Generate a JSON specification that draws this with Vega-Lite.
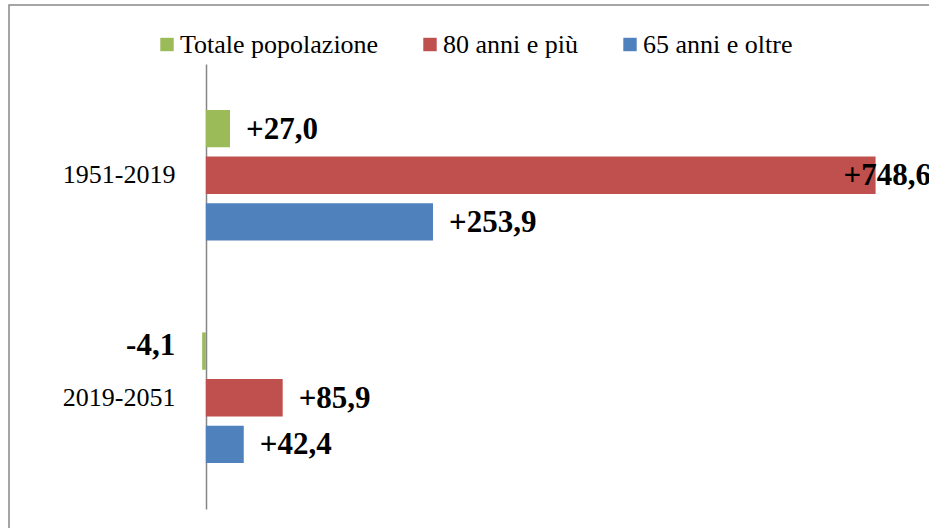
{
  "$schema": "https://vega.github.io/schema/vega-lite/v6.json",
  "width": 926,
  "height": 535,
  "autosize": {"type": "none"},
  "padding": {"left": 9, "top": 5, "right": 0, "bottom": 0},
  "background": "white",
  "config": {
    "view": {"stroke": "#888888", "strokeWidth": 1.5},
    "locale": {"number": {"decimal": ",", "thousands": ".", "grouping": [3], "currency": ["€", ""], "minus": "-"}},
    "font": "Liberation Serif"
  },
  "data": {
    "values": [
      {"periodo": "1951-2019", "serie": "Totale popolazione", "valore": 27.0},
      {"periodo": "1951-2019", "serie": "80 anni e più", "valore": 748.6},
      {"periodo": "1951-2019", "serie": "65 anni e oltre", "valore": 253.9},
      {"periodo": "2019-2051", "serie": "Totale popolazione", "valore": -4.1},
      {"periodo": "2019-2051", "serie": "80 anni e più", "valore": 85.9},
      {"periodo": "2019-2051", "serie": "65 anni e oltre", "valore": 42.4}
    ]
  },
  "encoding": {
    "y": {
      "field": "periodo", "type": "nominal",
      "sort": ["1951-2019", "2019-2051"],
      "scale": {"range": [59, 504], "paddingInner": 0.3708, "paddingOuter": 0.1854},
      "axis": {
        "title": null, "ticks": false, "domainColor": "#868686", "domainWidth": 1.5,
        "offset": -197, "labelPadding": 31, "labelFont": "Liberation Serif",
        "labelFontSize": 26, "labelColor": "black", "labelAngle": 0, "labelLimit": 300
      }
    },
    "yOffset": {
      "field": "serie", "type": "nominal",
      "sort": ["Totale popolazione", "80 anni e più", "65 anni e oltre"],
      "scale": {"paddingInner": 0.2, "paddingOuter": 0.1}
    },
    "x": {
      "field": "valore", "type": "quantitative",
      "scale": {"domain": [-220, 815], "nice": false, "zero": false},
      "axis": null
    }
  },
  "layer": [
    {
      "mark": {"type": "bar"},
      "encoding": {
        "color": {
          "field": "serie", "type": "nominal",
          "scale": {
            "domain": ["Totale popolazione", "80 anni e più", "65 anni e oltre"],
            "range": ["#9BBB59", "#C0504D", "#4F81BD"]
          },
          "legend": {
            "title": null, "orient": "none", "legendX": 145, "legendY": 26.5,
            "direction": "horizontal", "symbolType": "square", "symbolSize": 180,
            "symbolStrokeWidth": 0, "labelFont": "Liberation Serif", "labelFontSize": 26,
            "labelColor": "black", "labelOffset": 0, "columnPadding": 38,
            "labelLimit": 400, "padding": 0
          }
        }
      }
    },
    {
      "transform": [{"filter": "datum.valore >= 0 && datum.valore < 500"}],
      "mark": {"type": "text", "align": "left", "baseline": "middle", "dx": 16, "dy": 1,
               "font": "Liberation Serif", "fontWeight": "bold", "fontSize": 31, "color": "black"},
      "encoding": {"text": {"field": "valore", "type": "quantitative", "format": "+.1f"}}
    },
    {
      "transform": [{"filter": "datum.valore >= 500"}],
      "mark": {"type": "text", "align": "left", "baseline": "middle", "dx": -32, "dy": 1,
               "font": "Liberation Serif", "fontWeight": "bold", "fontSize": 31, "color": "black"},
      "encoding": {"text": {"field": "valore", "type": "quantitative", "format": "+.1f"}}
    },
    {
      "transform": [{"filter": "datum.valore < 0"}],
      "mark": {"type": "text", "align": "right", "baseline": "middle", "dx": -27, "dy": -5,
               "font": "Liberation Serif", "fontWeight": "bold", "fontSize": 31, "color": "black"},
      "encoding": {"text": {"field": "valore", "type": "quantitative", "format": "+.1f"}}
    }
  ]
}
